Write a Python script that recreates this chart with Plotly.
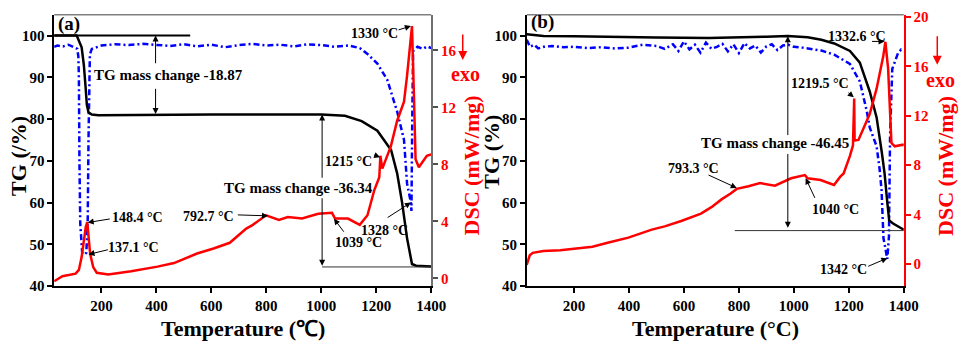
import plotly.graph_objects as go

# ---------------- Panel (a) data ----------------
Ta_tg = [28, 110, 128, 136, 142, 147, 153, 165, 189, 300, 400, 600, 800, 1000, 1086, 1147, 1204, 1254, 1276, 1294, 1312, 1330, 1345, 1400]
TGa = [100, 100, 97.2, 93, 88, 83.4, 81.6, 81.1, 80.9, 81.0, 81.0, 81.1, 81.1, 81.1, 80.8, 79.5, 77.2, 72.6, 67, 60, 51.5, 45.3, 44.9, 44.7]

Ta_dtg = [28, 40, 60, 80, 100, 112, 116, 118, 120, 123, 130, 137, 145, 150, 153, 155, 158, 165, 200, 250, 300, 350, 400, 450, 500, 550, 600,
          650, 700, 750, 800, 850, 900, 950, 1000, 1050, 1100, 1140, 1168, 1204, 1240, 1276, 1301, 1312, 1326, 1328, 1331, 1334, 1350, 1370, 1385, 1400]
DTGa = [97.3, 97.6, 97.4, 97.8, 97.2, 96.8, 95, 90, 70, 55, 48, 47.5, 48, 55, 75, 92, 95.5, 96.8, 97.6, 97.9, 97.7, 98.0, 97.8, 97.5, 97.9, 97.4, 97.8,
        97.2, 97.7, 98.0, 97.6, 97.8, 97.4, 97.9, 97.7, 97.3, 97.6, 97.0, 95.6, 93.3, 89.4, 81.8, 75, 64.6, 60, 58, 80, 96.3, 97.3, 96.8, 97.4, 97.0]

Ta_dsc = [28, 58, 106, 118, 128, 136, 143, 148.4, 153, 159, 170, 183, 225, 308, 404, 464, 548, 608, 667, 727, 751, 799, 846, 878, 930, 989,
          1039, 1050, 1097, 1140, 1168, 1193, 1211, 1215, 1222, 1253, 1276, 1301, 1312, 1330, 1337, 1343, 1355, 1384, 1400]
DSCa = [-0.2, 0.16, 0.34, 0.6, 1.5, 2.85, 3.6, 3.95, 2.8, 1.73, 0.8, 0.4, 0.27, 0.5, 0.83, 1.08, 1.75, 2.1, 2.5, 3.5, 3.76, 4.43, 4.1, 4.3, 4.2, 4.54,
        4.6, 4.2, 4.2, 3.76, 4.43, 6.2, 7.1, 8.6, 7.7, 9.26, 11.06, 12.4, 14.2, 17.7, 12.9, 8.36, 7.8, 8.6, 8.7]

# ---------------- Panel (b) data ----------------
Tb_tg = [28, 89, 200, 326, 500, 691, 800, 900, 978, 1050, 1100, 1147, 1204, 1240, 1276, 1301, 1320, 1330, 1340, 1347, 1361, 1380, 1397, 1400]
TGb = [100.3, 99.9, 99.8, 99.6, 99.5, 99.4, 99.5, 99.7, 99.9, 99.6, 99.0, 98.1, 96.3, 93.5, 86.6, 80.4, 72, 67, 60, 55.7, 55.0, 54.3, 53.6, 53.5]

Tb_dtg = [28, 40, 55, 70, 90, 120, 160, 200, 250, 300, 350, 400, 450, 500, 530, 560, 580, 600, 620, 640, 660, 680, 700, 720, 740, 760, 780,
          800, 820, 840, 860, 880, 900, 920, 940, 960, 980, 1000, 1030, 1060, 1100, 1147, 1204, 1240, 1265, 1276, 1301, 1312, 1319, 1326,
          1334, 1340, 1346, 1350, 1358, 1379, 1390, 1400]
DTGb = [99.0, 97.3, 97.8, 96.9, 97.3, 97.5, 97.2, 97.3, 97.0, 97.2, 96.9, 97.1, 97.8, 97.5, 96.8, 97.9, 96.3, 98.6, 96.7, 97.8, 95.9, 98.3, 96.8,
        97.3, 98.0, 96.2, 97.9, 95.8, 98.2, 96.9, 97.6, 95.9, 97.4, 97.9, 96.5, 97.6, 97.8, 97.3, 97.1, 96.8, 96.4, 95.4, 93.2, 89, 82, 78, 73.5,
        68, 63, 51.5, 48, 46.5, 52, 76, 92, 95.8, 96.6, 96.2]

Tb_dsc = [28, 39, 50, 64, 88, 150, 207, 267, 326, 398, 483, 530, 590, 662, 700, 738, 770, 792, 835, 877, 931, 990, 1040, 1050, 1097, 1146,
          1169, 1181, 1204, 1215, 1219.5, 1221, 1235, 1276, 1301, 1325, 1333, 1343, 1355, 1367, 1397, 1400]
DSCb = [-0.08, 0.7, 0.9, 0.96, 1.04, 1.1, 1.22, 1.4, 1.74, 2.13, 2.78, 3.04, 3.48, 4.08, 4.6, 5.25, 5.7, 6.08, 6.29, 6.55, 6.34, 6.94, 7.2,
        6.94, 6.8, 6.4, 7.07, 7.33, 8.75, 9.6, 13.4, 10.0, 10.05, 12.14, 14.2, 16.8, 18.0, 15.8, 9.8, 9.53, 9.66, 9.6]

X_TICKS = [200, 400, 600, 800, 1000, 1200, 1400]
TG_TICKS = [40, 50, 60, 70, 80, 90, 100]
DSC_TICKS_A = [0, 4, 8, 12, 16]
DSC_TICKS_B = [0, 4, 8, 12, 16, 20]

FONT = "Times New Roman, Liberation Serif, serif"
RED = "#ff0000"
BLUE = "#0000ff"
W, H = 970, 350

fig = go.Figure()
lw = 2.5
dash = "6px,3px,2px,3px"
fig.add_trace(go.Scatter(x=Ta_dtg, y=DTGa, mode="lines", line=dict(color=BLUE, width=lw, dash=dash), xaxis="x", yaxis="y"))
fig.add_trace(go.Scatter(x=Ta_tg, y=TGa, mode="lines", line=dict(color="black", width=lw), xaxis="x", yaxis="y"))
fig.add_trace(go.Scatter(x=Ta_dsc, y=DSCa, mode="lines", line=dict(color=RED, width=lw), xaxis="x", yaxis="y2"))
fig.add_trace(go.Scatter(x=Tb_dtg, y=DTGb, mode="lines", line=dict(color=BLUE, width=lw, dash=dash), xaxis="x2", yaxis="y3"))
fig.add_trace(go.Scatter(x=Tb_tg, y=TGb, mode="lines", line=dict(color="black", width=lw), xaxis="x2", yaxis="y3"))
fig.add_trace(go.Scatter(x=Tb_dsc, y=DSCb, mode="lines", line=dict(color=RED, width=lw), xaxis="x2", yaxis="y4"))

ydom = [1 - 292 / H, 1 - 10 / H]
xdom_a = [55 / W, 438 / W]
xdom_b = [535 / W, 918 / W]
tickfont = dict(family=FONT, size=15, color="black", weight="bold")
redtick = dict(family=FONT, size=15, color=RED, weight="bold")

def xax(dom, anchor):
    return dict(domain=dom, anchor=anchor, range=[28, 1400], tickvals=X_TICKS, showgrid=False, zeroline=False,
                showline=True, linecolor="black", linewidth=1.5, ticks="outside", ticklen=5, tickwidth=1.5,
                tickcolor="black", tickfont=tickfont)

def yleft(anchor):
    return dict(domain=ydom, anchor=anchor, range=[40, 105], tickvals=TG_TICKS, showgrid=False, zeroline=False,
                showline=True, linecolor="black", linewidth=1.5, ticks="outside", ticklen=5, tickwidth=1.5,
                tickcolor="black", tickfont=tickfont)

fig.update_layout(
    width=W, height=H, autosize=False, margin=dict(l=0, r=0, t=0, b=0),
    paper_bgcolor="white", plot_bgcolor="white", showlegend=False,
    xaxis=xax(xdom_a, "y"), xaxis2=xax(xdom_b, "y3"),
    yaxis=yleft("x"), yaxis3=yleft("x2"),
    yaxis2=dict(domain=ydom, anchor="x", overlaying="y", side="right", range=[-0.54, 18.5], tickvals=DSC_TICKS_A,
                showgrid=False, zeroline=False, showline=True, linecolor="#707070", linewidth=1.5, ticks="outside",
                ticklen=5, tickwidth=1.5, tickcolor="#505050", tickfont=redtick),
    yaxis4=dict(domain=ydom, anchor="x2", overlaying="y3", side="right", range=[-1.8, 20.2], tickvals=DSC_TICKS_B,
                showgrid=False, zeroline=False, showline=True, linecolor=RED, linewidth=1.5, ticks="outside",
                ticklen=5, tickwidth=1.5, tickcolor=RED, tickfont=redtick),
)

shapes = []
for xr, yr in (("x", "y"), ("x2", "y3")):
    shapes.append(dict(type="line", xref=f"{xr} domain", yref=f"{yr} domain", x0=0, x1=1, y0=1, y1=1,
                       line=dict(color="#808080", width=1.5)))
# reference lines
shapes.append(dict(type="line", xref="x", yref="y", x0=28, x1=523, y0=100, y1=100, line=dict(color="black", width=2)))
shapes.append(dict(type="line", xref="x", yref="y", x0=1003, x1=1400, y0=44.6, y1=44.6, line=dict(color="#333333", width=1)))
shapes.append(dict(type="line", xref="x2", yref="y3", x0=785, x1=1400, y0=53.3, y1=53.3, line=dict(color="#333333", width=1)))
fig.update_layout(shapes=shapes)

ann = []
def txt(t, x, y, xr, yr, size=14, color="black", xanchor="center"):
    ann.append(dict(text=t, x=x, y=y, xref=xr, yref=yr, showarrow=False, xanchor=xanchor, yanchor="middle",
                    font=dict(family=FONT, size=size, color=color, weight="bold")))

def arr(x, y, ax, ay, xr, yr, color="black", width=1):
    ann.append(dict(text="", x=x, y=y, ax=ax, ay=ay, xref=xr, yref=yr, axref=xr, ayref=yr, showarrow=True,
                    arrowhead=2, arrowsize=1.2, arrowwidth=width, arrowcolor=color, standoff=0, startstandoff=0))

# panel (a)
txt("(a)", 57 / W, 1 - 20 / H, "paper", "paper", size=19, xanchor="left")
txt("TG mass change -18.87", 444, 90.5, "x", "y", size=15)
arr(397, 100, 397, 93, "x", "y")
arr(397, 81.2, 397, 87.6, "x", "y")
txt("TG mass change -36.34", 917, 63.5, "x", "y", size=15)
arr(1003, 81.1, 1003, 65.6, "x", "y")
arr(1003, 44.9, 1003, 61.4, "x", "y")
txt("1330 °C", 1193, 17.15, "x", "y2")
arr(1326, 17.7, 1276, 17.4, "x", "y2")
txt("1215 °C", 1100, 8.17, "x", "y2")
arr(1214, 8.5, 1186, 8.7, "x", "y2")
txt("1328 °C", 1229, 3.38, "x", "y2")
arr(1326, 60, 1236, 56.2, "x", "y")
txt("1039 °C", 1136, 2.5, "x", "y2")
arr(1046, 4.19, 1086, 3.17, "x", "y2")
txt("792.7 °C", 591, 4.32, "x", "y2")
arr(806, 4.39, 691, 4.46, "x", "y2")
txt("148.4 °C", 333, 4.25, "x", "y2")
arr(150, 3.92, 236, 4.19, "x", "y2")
txt("137.1 °C", 318, 2.16, "x", "y2")
arr(153, 47.6, 229, 48.8, "x", "y")

# panel (b)
txt("(b)", 537 / W, 1 - 18 / H, "paper", "paper", size=19, xanchor="left")
txt("TG mass change -46.45", 931.6, 74.2, "x2", "y3", size=15)
arr(978, 99.8, 978, 75.8, "x2", "y3")
arr(978, 54.0, 978, 72.0, "x2", "y3")
txt("1332.6 °C", 1229, 18.4, "x2", "y4")
arr(1330, 18.03, 1279, 18.03, "x2", "y4")
txt("1219.5 °C", 1096.5, 14.6, "x2", "y4")
arr(1218, 13.5, 1193, 13.97, "x2", "y4")
txt("793.3 °C", 634, 7.73, "x2", "y4")
arr(792, 6.16, 684, 7.26, "x2", "y4")
txt("1040 °C", 1150, 4.45, "x2", "y4")
arr(1043, 6.94, 1079, 5.23, "x2", "y4")
txt("1342 °C", 1179, 43.9, "x2", "y3")
arr(1340, 46.7, 1265, 44.6, "x2", "y3")

# axis titles
txt("Temperature (℃)", 247 / W, 1 - 336 / H, "paper", "paper", size=22)
txt("Temperature (°C)", 727 / W, 1 - 336 / H, "paper", "paper", size=22)
for xp, t, yc in ((18, "TG (/%)", 157), (499, "TG (%)", 152)):
    ann.append(dict(text=t, x=xp / W, y=1 - yc / H, xref="paper", yref="paper", showarrow=False, textangle=-90,
                    xanchor="center", yanchor="middle", font=dict(family=FONT, size=22, color="black", weight="bold")))
for xp in (479, 961):
    ann.append(dict(text="DSC (mW/mg)", x=xp / W, y=1 - 167 / H, xref="paper", yref="paper", showarrow=False,
                    textangle=-90, xanchor="center", yanchor="middle",
                    font=dict(family=FONT, size=22, color=RED, weight="bold")))
txt("exo", 473 / W, 1 - 72 / H, "paper", "paper", size=20, color=RED)
txt("exo", 955 / W, 1 - 78 / H, "paper", "paper", size=20, color=RED)
for xp, y0, y1 in ((470, 30, 57), (952, 32, 62)):
    ann.append(dict(text="", x=xp / W, y=1 - y1 / H, xref="paper", yref="paper", ax=0, ay=-(y1 - y0),
                    showarrow=True, arrowhead=2, arrowsize=1.2, arrowwidth=1.5, arrowcolor=RED, standoff=0))

fig.update_layout(annotations=ann)
fig.write_html("out.html")
